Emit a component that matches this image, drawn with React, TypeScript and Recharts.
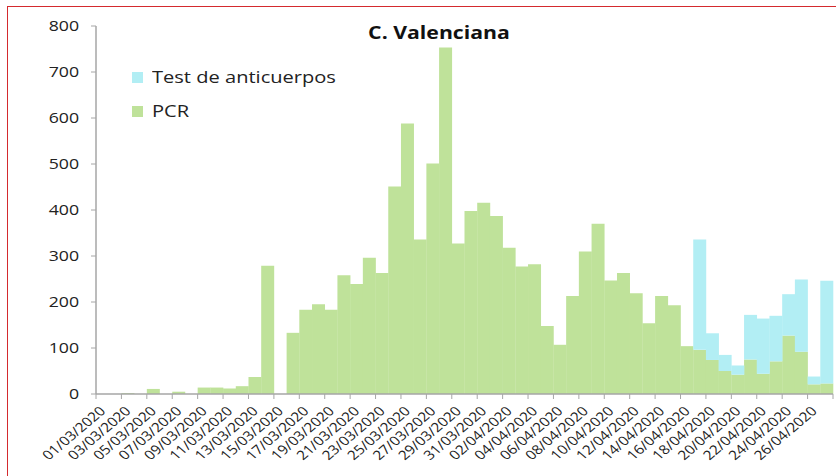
import { BarChart, Bar, XAxis, YAxis, Legend } from "recharts";

const GREEN = "#bfe29a";
const CYAN = "#b2eef4";
const AXIS = "#a6a6a6";
const FONT = "'Open Sans', sans-serif";
const STRETCH = 1.18;

const dates = [
  "01/03/2020", "02/03/2020", "03/03/2020", "04/03/2020", "05/03/2020", "06/03/2020",
  "07/03/2020", "08/03/2020", "09/03/2020", "10/03/2020", "11/03/2020", "12/03/2020",
  "13/03/2020", "14/03/2020", "15/03/2020", "16/03/2020", "17/03/2020", "18/03/2020",
  "19/03/2020", "20/03/2020", "21/03/2020", "22/03/2020", "23/03/2020", "24/03/2020",
  "25/03/2020", "26/03/2020", "27/03/2020", "28/03/2020", "29/03/2020", "30/03/2020",
  "31/03/2020", "01/04/2020", "02/04/2020", "03/04/2020", "04/04/2020", "05/04/2020",
  "06/04/2020", "07/04/2020", "08/04/2020", "09/04/2020", "10/04/2020", "11/04/2020",
  "12/04/2020", "13/04/2020", "14/04/2020", "15/04/2020", "16/04/2020", "17/04/2020",
  "18/04/2020", "19/04/2020", "20/04/2020", "21/04/2020", "22/04/2020", "23/04/2020",
  "24/04/2020", "25/04/2020", "26/04/2020", "27/04/2020",
];

const pcr = [
  0, 0, 2, 0, 11, 0, 5, 0, 14, 14, 12, 17, 37, 279, 0, 133, 183, 195, 183, 258,
  239, 296, 263, 451, 588, 336, 501, 753, 327, 398, 416, 387, 318, 277, 282, 148,
  107, 213, 310, 370, 247, 263, 219, 154, 213, 193, 104, 96, 74, 50, 42, 75, 44,
  71, 127, 92, 21, 23,
];

const anticuerpos = [
  0, 0, 0, 0, 0, 0, 0, 0, 0, 0, 0, 0, 0, 0, 0, 0, 0, 0, 0, 0,
  0, 0, 0, 0, 0, 0, 0, 0, 0, 0, 0, 0, 0, 0, 0, 0, 0, 0, 0, 0,
  0, 0, 0, 0, 0, 0, 0, 240, 58, 35, 20, 97, 120, 99, 90, 157, 17, 223,
];

const yTicks = [0, 100, 200, 300, 400, 500, 600, 700, 800];

const data = dates.map((d, i) => ({ date: d, pcr: pcr[i], anti: anticuerpos[i] }));

// x labels: rotated, then stretched a bit sideways like the source image
function DateTick(props: any) {
  const { x, y, payload, index } = props;
  const off = payload?.offset ?? 6.35;
  const last = index === Math.floor((dates.length - 1) / 2) && dates.length % 2 === 0;
  return (
    <g>
      <line x1={x - off} x2={x - off} y1={y} y2={y + 5} stroke={AXIS} />
      {last && <line x1={x + 3 * off} x2={x + 3 * off} y1={y} y2={y + 5} stroke={AXIS} />}
      <text
        transform={`translate(${x + 4},${y + 18}) scale(${STRETCH},1) rotate(-45)`}
        textAnchor="end"
        fontSize={13}
        fontFamily={FONT}
        fill="#222"
      >
        {payload.value}
      </text>
    </g>
  );
}

function ValueTick(props: any) {
  const { x, y, payload } = props;
  return (
    <text
      transform={`translate(${x},${y}) scale(${STRETCH},1)`}
      textAnchor="end"
      dy="0.35em"
      fontSize={15}
      fontFamily={FONT}
      fill="#222"
    >
      {payload.value}
    </text>
  );
}

function LegendBox() {
  const items = [
    { label: "Test de anticuerpos", color: CYAN },
    { label: "PCR", color: GREEN },
  ];
  return (
    <div style={{ fontFamily: FONT, fontSize: 17, color: "#222" }}>
      {items.map((it) => (
        <div key={it.label} style={{ display: "flex", alignItems: "center", height: 24, marginBottom: 10 }}>
          <span style={{ width: 11, height: 11, background: it.color, marginRight: 9, display: "inline-block" }} />
          <span
            style={{
              lineHeight: "24px",
              display: "inline-block",
              whiteSpace: "nowrap",
              transform: `scaleX(${STRETCH})`,
              transformOrigin: "left center",
            }}
          >
            {it.label}
          </span>
        </div>
      ))}
    </div>
  );
}

export default function App() {
  return (
    <div style={{ position: "absolute", left: 0, top: 0, width: 836, height: 476, overflow: "hidden", background: "#fff" }}>
      <div style={{ position: "absolute", left: 7, top: 6, width: 900, height: 600, border: "1px solid #d42a2e" }} />
      <div style={{ position: "absolute", left: 0, top: 0 }}>
        <BarChart
          width={836}
          height={476}
          data={data}
          margin={{ top: 26, right: 3, bottom: 0, left: 0 }}
          barCategoryGap={0}
          barGap={0}
        >
          <XAxis
            dataKey="date"
            interval={1}
            height={82}
            tick={<DateTick />}
            tickLine={false}
            tickSize={0}
            tickMargin={0}
            axisLine={{ stroke: AXIS, strokeWidth: 1.5 }}
          />
          <YAxis
            width={96}
            domain={[0, 800]}
            ticks={yTicks}
            interval={0}
            tickSize={5}
            tickMargin={12}
            tickLine={{ stroke: AXIS }}
            axisLine={{ stroke: AXIS, strokeWidth: 1.5 }}
            tick={<ValueTick />}
          />
          <Legend
            layout="vertical"
            align="center"
            verticalAlign="middle"
            content={<LegendBox />}
            wrapperStyle={{ left: 132, top: 65, width: 260 }}
          />
          <Bar dataKey="pcr" stackId="a" fill={GREEN} isAnimationActive={false} />
          <Bar dataKey="anti" stackId="a" fill={CYAN} isAnimationActive={false} />
        </BarChart>
      </div>
      <div
        style={{
          position: "absolute",
          left: 339,
          top: 21,
          width: 200,
          textAlign: "center",
          fontFamily: FONT,
          fontWeight: 700,
          fontSize: 18,
          lineHeight: "22px",
          color: "#111",
          transform: `scaleX(${STRETCH})`,
        }}
      >
        C. Valenciana
      </div>
    </div>
  );
}
